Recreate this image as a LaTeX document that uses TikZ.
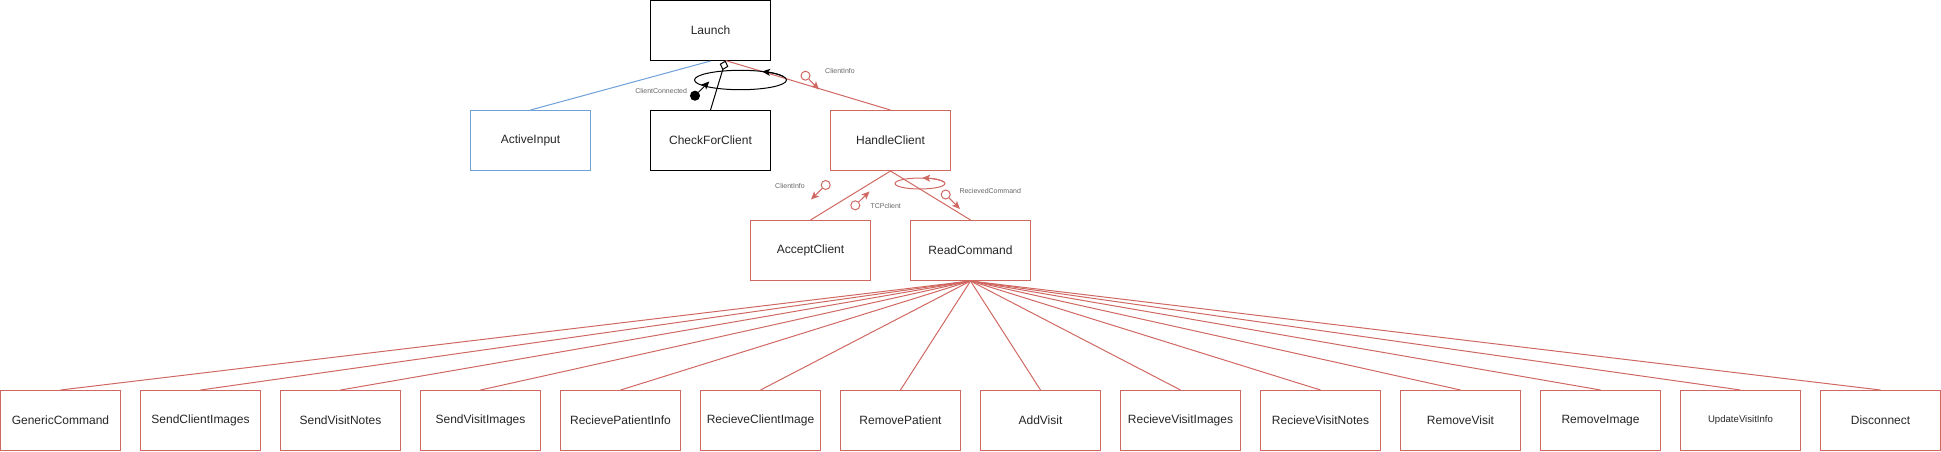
\documentclass[tikz,border=0pt]{standalone}
\usepackage{fontspec}
\setmainfont{Liberation Sans}
\usetikzlibrary{arrows.meta}
\definecolor{rd}{HTML}{D06862}
\definecolor{bl}{HTML}{6FA0D8}
\begin{document}
\begin{tikzpicture}[x=1pt,y=-1pt,line width=1pt,
  box/.style={draw,rectangle,minimum width=120pt,minimum height=60pt,inner sep=0pt,fill=white,font=\fontsize{12}{14}\selectfont,text=black!85},
  rbox/.style={box,draw=rd},
  bbox/.style={box,draw=bl},
  lbl/.style={font=\fontsize{7}{8}\selectfont,text=black!60,inner sep=0pt},
  arr/.style={-{Stealth[length=8pt,width=7pt,inset=2pt]}},
  flag/.style={circle,draw,fill=black,minimum size=9pt,inner sep=0pt},
  couple/.style={circle,draw=rd,fill=white,minimum size=9pt,inner sep=0pt}]
\useasboundingbox (0,0) rectangle (1941,451);

% nodes
\node[box] (Launch) at (710.5,30.5) {Launch};
\node[bbox] (ActiveInput) at (530.5,140.5) {ActiveInput};
\node[box] (CheckForClient) at (710.5,140.5) {CheckForClient};
\node[rbox] (HandleClient) at (890.5,140.5) {HandleClient};
\node[rbox] (AcceptClient) at (810.5,250.5) {AcceptClient};
\node[rbox] (ReadCommand) at (970.5,250.5) {ReadCommand};

\foreach \t [count=\i from 0] in {GenericCommand,SendClientImages,SendVisitNotes,SendVisitImages,RecievePatientInfo,RecieveClientImage,RemovePatient,AddVisit,RecieveVisitImages,RecieveVisitNotes,RemoveVisit,RemoveImage,UpdateVisitInfo,Disconnect}{
  \ifnum\i=12
    \node[rbox,font=\fontsize{9.6}{11}\selectfont] (b\i) at (60.5+140*\i,420.5) {\t};
  \else
    \node[rbox] (b\i) at (60.5+140*\i,420.5) {\t};
  \fi
  \draw[rd] (b\i.north) -- (ReadCommand.south);
}

% connectors
\coordinate (lj) at (725.5,60.5);
\draw[bl] (ActiveInput.north) -- (Launch.south);
\draw[rd] (HandleClient.north) -- (lj);
\draw[-{Diamond[length=10pt,width=9pt,fill=white]}] (CheckForClient.north) -- (lj);
\draw[rd] (AcceptClient.north) -- (HandleClient.south);
\draw[rd] (ReadCommand.north) -- (HandleClient.south);

% loop at Launch
\coordinate (loop1) at (740.5,80);
\draw (loop1) ellipse [x radius=46, y radius=9.7];
\draw[arr] (loop1) ++(-20:46 and 9.7) arc[start angle=-20,end angle=-62,x radius=46,y radius=9.7];

% loop at HandleClient
\coordinate (loop2) at (920,183.5);
\draw[rd] (loop2) ellipse [x radius=25, y radius=5.5];
\draw[rd,arr] (loop2) ++(-15:25 and 5.5) arc[start angle=-15,end angle=-85,x radius=25,y radius=5.5];

% couples
\node[flag] (f1) at (695,95.7) {};
\coordinate (f1e) at (709.3,81.5);
\draw[arr] (f1) -- (f1e);
\node[lbl,anchor=east] (l1) at (687.5,90.5) {ClientConnected};

\node[couple] (c1) at (805.5,75.7) {};
\coordinate (c1e) at (819,89.5);
\draw[rd,arr] (c1) -- (c1e);
\node[lbl] (l2) at (840,70.5) {ClientInfo};

\node[couple] (c2) at (825.7,185) {};
\coordinate (c2e) at (811,199.5);
\draw[rd,arr] (c2) -- (c2e);
\node[lbl] (l3) at (790,185.5) {ClientInfo};

\node[couple] (c3) at (855.3,205.3) {};
\coordinate (c3e) at (869.5,191.5);
\draw[rd,arr] (c3) -- (c3e);
\node[lbl,anchor=west] (l4) at (870,205.5) {TCPclient};

\node[couple] (c4) at (945.7,194.5) {};
\coordinate (c4e) at (960,209);
\draw[rd,arr] (c4) -- (c4e);
\node[lbl,anchor=west] (l5) at (959,190.5) {RecievedCommand};
\end{tikzpicture}
\end{document}
